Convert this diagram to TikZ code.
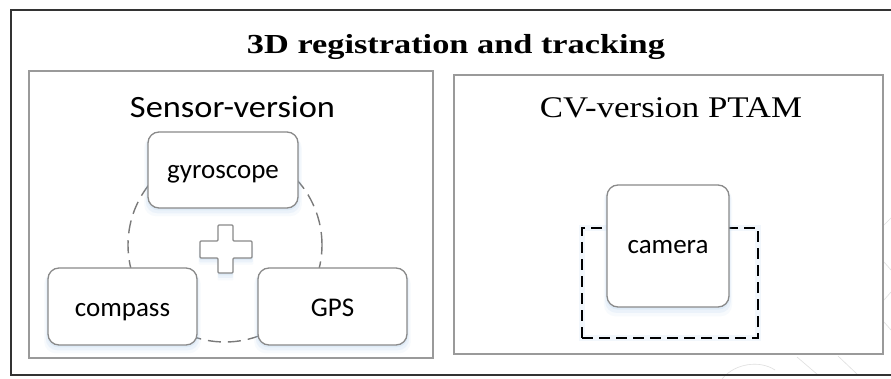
\documentclass[tikz,border=0pt]{standalone}
\usepackage{fontspec}
\setmainfont{Liberation Serif}
\newfontfamily\calibri{Carlito}
\usetikzlibrary{shadows}
\definecolor{framegray}{HTML}{333333}
\definecolor{panelgray}{HTML}{9A9A9A}
\definecolor{boxgray}{HTML}{8A8A8A}
\definecolor{ringgray}{HTML}{7A7A7A}
\definecolor{glow}{HTML}{9CC3EA}
\tikzset{
  panel/.style={draw=panelgray, line width=1.4pt, fill=white, inner sep=0pt},
  softshadow/.style={
    general shadow={fill=glow, opacity=0.16, shadow yshift=-2pt, shadow scale=1.01},
    general shadow={fill=glow, opacity=0.12, shadow yshift=-4pt, shadow scale=1.03},
    general shadow={fill=glow, opacity=0.08, shadow yshift=-6pt, shadow scale=1.05}},
  sensorbox/.style={draw=boxgray, line width=1.3pt, fill=white, rounded corners=11pt,
    inner sep=0pt, text depth=0pt, softshadow, font=\calibri\fontsize{27}{30}\selectfont},
  heading/.style={anchor=base, inner sep=0pt},
  faint/.style={draw=gray!25, line width=0.6pt}
}
\begin{document}
\begin{tikzpicture}[x=1pt, y=-1pt]
  \useasboundingbox (0,0) rectangle (891,379);
  \fill[white] (0,0) rectangle (891,379);

  % faint background strokes, lower right
  \draw[faint] (797,357) -- (818,375);
  \draw[faint] (838,356) -- (858,375);
  \draw[faint] (884,225) -- (891,218);
  \draw[faint] (884,262) -- (891,270);
  \draw[faint] (884,300) -- (891,292);
  \draw[faint] (884,322) -- (891,330);
  \draw[faint] (722,379) .. controls (735,363) and (760,360) .. (775,370);

  % outer frame (open on the right)
  \coordinate (otr) at (891,10);
  \coordinate (obr) at (891,375);
  \draw[framegray, line width=1.4pt] (otr) -- (11,10) -- (11,375) -- (obr);

  % title
  \node[heading] (title) at (456,54)
    {\resizebox{418pt}{\height}{\fontsize{27.5}{32}\selectfont\bfseries 3D registration and tracking}};

  % panels
  \node[panel, minimum width=404pt, minimum height=287pt] (sensorpanel) at (231,214.5) {};
  \node[panel, minimum width=429pt, minimum height=279pt] (cvpanel) at (668.5,214.5) {};

  \node[heading] (sensorhead) at (232.5,118)
    {\resizebox{205pt}{\height}{\calibri\fontsize{31}{36}\selectfont Sensor-version}};
  \node[heading] (cvhead) at (671,118)
    {\resizebox{262pt}{\height}{\fontsize{30}{36}\selectfont CV-version PTAM}};

  % sensor fusion ring
  \node[circle, draw=ringgray, line width=1.4pt, dash pattern=on 13pt off 7pt,
        minimum size=194pt, inner sep=0pt] (ring) at (225,245) {};

  % plus sign
  \draw[draw=boxgray, line width=1.3pt, fill=white, rounded corners=1pt, softshadow]
    (218,225) -- (233,225) -- (233,241) -- (252,241) -- (252,258) -- (233,258)
    -- (233,273) -- (218,273) -- (218,258) -- (200,258) -- (200,241) -- (218,241)
    -- cycle;

  % sensor boxes
  \node[sensorbox, text height=18pt, minimum width=150pt, minimum height=76pt] (gyro) at (223,170) {gyroscope};
  \node[sensorbox, text height=19pt, minimum width=149pt, minimum height=77pt] (compass) at (122.5,306.5) {compass};
  \node[sensorbox, text height=19pt, minimum width=149pt, minimum height=77pt] (gps) at (332.5,306.5) {GPS};

  % camera with dashed tracking region
  \node[draw=black, line width=1.3pt, dash pattern=on 11pt off 6pt,
        preaction={draw=glow, opacity=0.12, line width=6pt, solid},
        minimum width=176pt, minimum height=110pt, inner sep=0pt] (region) at (670,283) {};
  \node[sensorbox, text height=15pt, minimum width=122pt, minimum height=122pt] (camera) at (668,246) {camera};
\end{tikzpicture}
\end{document}
